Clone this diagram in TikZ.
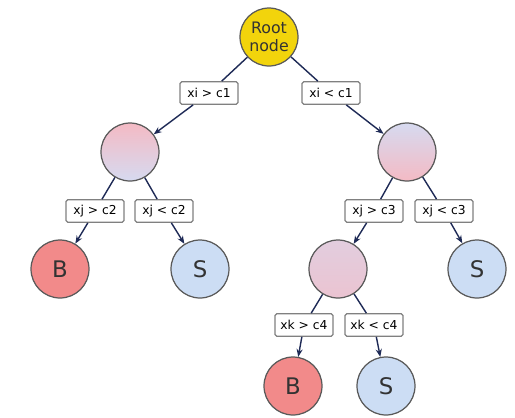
\documentclass[tikz,border=0pt]{standalone}
\usepackage{fontspec}
\setmainfont{DejaVu Sans}
\usetikzlibrary{arrows.meta}
\definecolor{rootyellow}{HTML}{F2D40C}
\definecolor{bred}{HTML}{F28A8A}
\definecolor{sblue}{HTML}{CCDDF4}
\definecolor{mpink}{HTML}{F4BAC4}
\definecolor{mlav}{HTML}{D6DAF0}
\definecolor{edgeblue}{HTML}{1E2A56}
\begin{document}
\begin{tikzpicture}[x=0.02cm,y=-0.02cm,
  round/.style={circle,draw=black!65,line width=0.7pt,minimum size=1.16cm,inner sep=0pt,text=black!80},
  leaf/.style={round,font=\fontsize{13}{14}\selectfont},
  test/.style={draw=black!50,line width=0.7pt,fill=white,rounded corners=1pt,font=\fontsize{7}{8}\selectfont,
    minimum width=1.16cm,minimum height=0.45cm,inner sep=1pt},
  link/.style={draw=edgeblue,line width=0.8pt},
  arr/.style={link,-{Stealth[length=4.5pt,width=3.5pt]}}]
\useasboundingbox (0,0) rectangle (515,417);
% Nodes of the tree
\node[round,fill=rootyellow,align=center,font=\fontsize{9}{10}\selectfont] (root) at (269,37) {Root\\node};
\node[round,top color=mpink,bottom color=mlav] (nL) at (130,152) {};
\node[round,top color=mlav,bottom color=mpink] (nR) at (407,152) {};
\node[leaf,fill=bred] (bL) at (60,269) {B};
\node[leaf,fill=sblue] (sL) at (200,269) {S};
\node[round,top color=mlav!60!mpink,bottom color=mpink!70!mlav] (nRL) at (338,269) {};
\node[leaf,fill=sblue] (sR) at (477,269) {S};
\node[leaf,fill=bred] (bRL) at (293,386) {B};
\node[leaf,fill=sblue] (sRL) at (386,386) {S};
% Tests on the edges
\node[test] (t1) at (209,93) {xi > c1};
\node[test] (t2) at (331,93) {xi < c1};
\node[test] (t3) at (95,211) {xj > c2};
\node[test] (t4) at (164,211) {xj < c2};
\node[test] (t5) at (374,211) {xj > c3};
\node[test] (t6) at (444,211) {xj < c3};
\node[test] (t7) at (304,325) {xk > c4};
\node[test] (t8) at (374,325) {xk < c4};
% Connectors
\draw[link] (root) -- (t1);
\draw[link] (root) -- (t2);
\draw[arr] (t1) -- (nL);
\draw[arr] (t2) -- (nR);
\draw[link] (nL) -- (t3);
\draw[link] (nL) -- (t4);
\draw[arr] (t3) -- (bL);
\draw[arr] (t4) -- (sL);
\draw[link] (nR) -- (t5);
\draw[link] (nR) -- (t6);
\draw[arr] (t5) -- (nRL);
\draw[arr] (t6) -- (sR);
\draw[link] (nRL) -- (t7);
\draw[link] (nRL) -- (t8);
\draw[arr] (t7) -- (bRL);
\draw[arr] (t8) -- (sRL);
\end{tikzpicture}
\end{document}
